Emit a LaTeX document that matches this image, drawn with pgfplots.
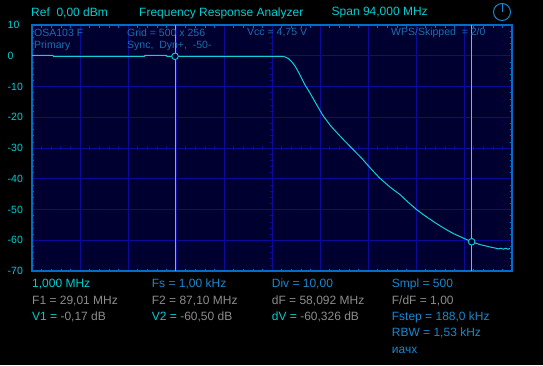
\documentclass[border=0pt]{standalone}
\usepackage{fontspec}
\setmainfont{Liberation Sans}
\usepackage{pgfplots}
\pgfplotsset{compat=1.18}
\definecolor{bgnavy}{RGB}{0,0,48}
\definecolor{gridblue}{RGB}{10,10,155}
\definecolor{borderblue}{RGB}{0,110,200}
\definecolor{trace}{RGB}{20,205,215}
\definecolor{cyantxt}{RGB}{0,205,210}
\definecolor{bluetxt}{RGB}{25,135,205}
\definecolor{intxt}{RGB}{25,110,175}
\definecolor{graytxt}{RGB}{140,140,140}
\definecolor{cursorgray}{RGB}{165,165,165}
\begin{document}
\begin{tikzpicture}[x=1pt,y=1pt]
\useasboundingbox (0,0) rectangle (543,365);
\fill[black] (0,0) rectangle (543,365);
\begin{axis}[
  at={(32pt,94pt)}, anchor=south west,
  scale only axis, width=480pt, height=246pt,
  xmin=1, xmax=95, ymin=-70, ymax=10,
  axis background/.style={fill=bgnavy},
  axis line style={draw=borderblue, line width=1.2pt},
  xtick={1,10.4,19.8,29.2,38.6,48,57.4,66.8,76.2,85.6,95},
  xticklabels={},
  ytick={-70,-60,-50,-40,-30,-20,-10,0,10},
  yticklabels={-70,-60,-50,-40,-30,-20,-10,0,10},
  yticklabel style={anchor=west, inner sep=0pt, xshift=-24.5pt, font=\fontsize{10.5}{12}\selectfont, text=cyantxt},
  grid=major,
  major grid style={draw=gridblue, line width=0.9pt},
  major tick length=0pt,
  minor x tick num=4, minor y tick num=4,
  minor tick length=2.5pt,
  tick align=inside,
  minor tick style={draw=borderblue, line width=0.5pt},
  clip=true,
]
% centre-line ticks (graticule decoration)
\pgfplotsinvokeforeach{1,...,49}{
  \draw[gridblue, line width=0.6pt] ({1+#1*1.88},-30.7) -- ({1+#1*1.88},-29.3);
}
\pgfplotsinvokeforeach{1,...,39}{
  \draw[gridblue, line width=0.6pt] (47.55,{-70+#1*2}) -- (48.45,{-70+#1*2});
}
\addplot[trace, line width=1pt] coordinates {
(1,0.1) (5.1,0.1) (5.2,-0.2) (23.0,-0.2) (23.1,0.1) (27.3,0.1) (27.4,-0.17) (49.9,-0.17)
(50.6,-0.4) (51.2,-0.9) (51.9,-2.0) (52.6,-3.6) (53.4,-6.0) (54.4,-9.3) (55.4,-12.0)
(56.7,-15.8) (58.0,-19.5) (59.4,-22.6) (60.7,-25.0) (62.0,-27.3) (63.3,-29.5) (65.6,-33.4)
(67.3,-36.6) (69.1,-39.8) (71.1,-42.7) (73.1,-45.2) (74.7,-47.7) (76.3,-50.0) (78.0,-52.1)
(79.6,-53.9) (80.9,-55.3) (82.2,-56.6) (83.5,-57.8) (84.8,-58.8) (86.0,-59.7) (87.1,-60.5)
(88.7,-61.4) (89.7,-61.8) (90.7,-62.2) (91.6,-62.5) (92.3,-62.8) (92.8,-62.6) (93.3,-62.9)
(93.8,-62.6) (94.2,-62.9) (94.6,-62.7)
};
\addplot[cursorgray, line width=0.9pt] coordinates {(29.01,10) (29.01,-70)};
\addplot[cursorgray, line width=0.9pt] coordinates {(87.10,10) (87.10,-70)};
\addplot[only marks, mark=*, mark size=3.3pt, mark options={draw=trace, fill=bgnavy, line width=0.9pt}] coordinates {(29.01,-0.17) (87.10,-60.50)};
\end{axis}
% header
\begin{scope}[every node/.style={inner sep=0pt, anchor=west, font=\fontsize{12}{14}\selectfont}]
\node[text=cyantxt] at (31,352) {Ref\ \ 0,00 dBm};
\node[text=cyantxt] at (139,352) {Frequency Response Analyzer};
\node[text=cyantxt] at (331.5,352) {Span 94,000 MHz};
\end{scope}
\draw[bluetxt, line width=1pt] (502,353) circle (8.5);
\draw[bluetxt, line width=1pt] (502,362) -- (502,352.5);
% inside texts
\begin{scope}[every node/.style={inner sep=0pt, anchor=west, font=\fontsize{10.5}{12}\selectfont, text=intxt}]
\node at (34,332) {OSA103 F};
\node at (34,319) {Primary};
\node at (127,332) {Grid = 500 x 256};
\node at (127,319) {Sync,\ \ Dyn+,\ \ -50-};
\node at (247,332) {Vcc = 4,75 V};
\node at (391,332) {WPS/Skipped\ \ = 2/0};
\end{scope}
% bottom texts
\begin{scope}[every node/.style={inner sep=0pt, anchor=west, font=\fontsize{12}{14}\selectfont}]
\node[text=cyantxt] at (32,81) {1,000 MHz};
\node[text=bluetxt] at (151.7,81) {Fs = 1,00 kHz};
\node[text=bluetxt] at (271.7,81) {Div = 10,00};
\node[text=bluetxt] at (391.7,81) {Smpl = 500};
\node[text=graytxt] at (32,64) {F1 = 29,01 MHz};
\node[text=graytxt] at (151.7,64) {F2 = 87,10 MHz};
\node[text=graytxt] at (271.7,64) {dF = 58,092 MHz};
\node[text=graytxt] at (391.7,64) {F/dF = 1,00};
\node at (32,47.7) {\textcolor{cyantxt}{V1 =} \textcolor{graytxt}{-0,17 dB}};
\node at (151.7,47.7) {\textcolor{cyantxt}{V2 =} \textcolor{graytxt}{-60,50 dB}};
\node at (271.7,47.7) {\textcolor{cyantxt}{dV =} \textcolor{graytxt}{-60,326 dB}};
\node[text=bluetxt] at (391.7,47.7) {Fstep = 188,0 kHz};
\node[text=bluetxt] at (391.7,31.7) {RBW = 1,53 kHz};
\node[text=bluetxt] at (391.7,15) {иачх};
\end{scope}
\end{tikzpicture}
\end{document}
